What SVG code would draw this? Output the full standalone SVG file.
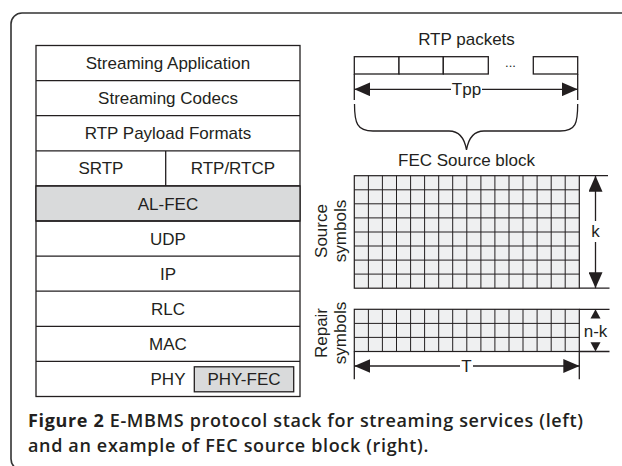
<svg xmlns="http://www.w3.org/2000/svg" width="622" height="466" viewBox="0 0 622 466">
<style>
.t{font-family:"Liberation Sans",Arial,sans-serif;font-size:17px;fill:#231f20;text-anchor:middle}
.ln{stroke:#231f20;stroke-width:1.3;fill:none}
.gl{stroke:#231f20;stroke-width:1;fill:none}
.box{fill:#fff;stroke:#231f20;stroke-width:1.3}
.gray{fill:#d9dadb;stroke:#231f20;stroke-width:1.3}
.cells{fill:#eff0f1;stroke:#231f20;stroke-width:1.2}
.ah{fill:#231f20;stroke:none}
.cap{font-family:"Open Sans","Liberation Sans",sans-serif;font-size:18px;letter-spacing:0.65px;fill:#231f20}
</style>
<defs>
<marker id="arr" markerUnits="userSpaceOnUse" markerWidth="16" markerHeight="14" refX="16" refY="7" orient="auto-start-reverse">
<path d="M0,0 L16,7 L0,14 z" fill="#231f20"/>
</marker>
</defs>
<rect width="622" height="466" fill="#fff"/>
<rect id="frame" x="11" y="13" width="700" height="457" rx="11" fill="none" stroke="#333" stroke-width="1.6"/>

<g id="stack">
<rect class="box" x="36" y="45.5" width="264" height="351"/>
<rect class="gray" x="36" y="185.9" width="264" height="35.1"/>
<path class="ln" d="M36,80.6H300M36,115.7H300M36,150.8H300M36,185.9H300M36,221H300M36,256.1H300M36,291.2H300M36,326.3H300M36,361.4H300M165.7,150.8V185.9"/>
<g id="n-app"><text class="t" x="168" y="69.1">Streaming Application</text></g>
<g id="n-codec"><text class="t" x="168" y="104.2">Streaming Codecs</text></g>
<g id="n-rtppf"><text class="t" x="168" y="139.3">RTP Payload Formats</text></g>
<g id="n-srtp"><text class="t" x="100.9" y="174.4">SRTP</text></g>
<g id="n-rtcp"><text class="t" x="232.9" y="174.4">RTP/RTCP</text></g>
<g id="n-alfec"><text class="t" x="168" y="209.5">AL-FEC</text></g>
<g id="n-udp"><text class="t" x="168" y="244.6">UDP</text></g>
<g id="n-ip"><text class="t" x="168" y="279.7">IP</text></g>
<g id="n-rlc"><text class="t" x="168" y="314.8">RLC</text></g>
<g id="n-mac"><text class="t" x="168" y="349.9">MAC</text></g>
<g id="n-phy"><text class="t" x="168" y="385">PHY</text></g>
<g id="n-phyfec"><rect class="gray" x="194.3" y="366.8" width="99.4" height="25"/><text class="t" x="244" y="385">PHY-FEC</text></g>
</g>

<g id="packets">
<text class="t" x="466.5" y="45">RTP packets</text>
<rect class="box" x="354.3" y="56.7" width="44.7" height="17.3"/>
<rect class="box" x="399" y="56.7" width="44.3" height="17.3"/>
<rect class="box" x="443.3" y="56.7" width="45" height="17.3"/>
<rect class="box" x="533.3" y="56.7" width="44.4" height="17.3"/>
<text class="t" x="510.5" y="67" style="font-size:13px">...</text>
</g>

<g id="source-block">
<text class="t" x="466.5" y="166">FEC Source block</text>
<rect class="cells" x="354.3" y="175.7" width="225" height="112.5"/>
<path class="gl" d="M368.4,175.7V288.2M382.4,175.7V288.2M396.5,175.7V288.2M410.6,175.7V288.2M424.6,175.7V288.2M438.7,175.7V288.2M452.7,175.7V288.2M466.8,175.7V288.2M480.9,175.7V288.2M494.9,175.7V288.2M509,175.7V288.2M523,175.7V288.2M537.1,175.7V288.2M551.2,175.7V288.2M565.2,175.7V288.2M354.3,189.8H579.3M354.3,203.8H579.3M354.3,217.9H579.3M354.3,232H579.3M354.3,246H579.3M354.3,260.1H579.3M354.3,274.1H579.3"/>
<text class="t" transform="translate(327,231) rotate(-90)" x="0" y="0">Source</text>
<text class="t" transform="translate(345.5,231) rotate(-90)" x="0" y="0">symbols</text>
</g>

<g id="repair-block">
<rect class="cells" x="354.3" y="309.3" width="225" height="42.2"/>
<path class="gl" d="M368.4,309.3V351.5M382.4,309.3V351.5M396.5,309.3V351.5M410.6,309.3V351.5M424.6,309.3V351.5M438.7,309.3V351.5M452.7,309.3V351.5M466.8,309.3V351.5M480.9,309.3V351.5M494.9,309.3V351.5M509,309.3V351.5M523,309.3V351.5M537.1,309.3V351.5M551.2,309.3V351.5M565.2,309.3V351.5M354.3,323.4H579.3M354.3,337.4H579.3"/>
<text class="t" transform="translate(327,333) rotate(-90)" x="0" y="0">Repair</text>
<text class="t" transform="translate(345.5,333) rotate(-90)" x="0" y="0">symbols</text>
</g>

<g id="connectors">
<path class="ln" d="M354.3,74V100M577.7,74V100"/>
<line class="ln" x1="354.3" y1="89.3" x2="451" y2="89.3" marker-start="url(#arr)"/>
<line class="ln" x1="482" y1="89.3" x2="577.7" y2="89.3" marker-end="url(#arr)"/>
<text class="t" x="466.5" y="94.5">Tpp</text>
<path class="ln" d="M354.5,104C354.5,123 357,131 373,131L449,131C459,131 464.5,138 466.5,150C468.5,138 474,131 484,131L560,131C576,131 577.7,123 577.7,104"/>
<path class="ln" d="M579.3,175.7H608M579.3,288.2H609.5M579.3,309.3H609.5M579.3,351.5H609.5"/>
<line class="ln" x1="595.5" y1="175.7" x2="595.5" y2="221" marker-start="url(#arr)"/>
<line class="ln" x1="595.5" y1="242" x2="595.5" y2="288.2" marker-end="url(#arr)"/>
<text class="t" x="595.5" y="237">k</text>
<path class="ah" d="M595.5,309.3L600.5,318.5L590.5,318.5z"/>
<path class="ah" d="M595.5,351.5L600.5,342.3L590.5,342.3z"/>
<text class="t" x="595.5" y="336.5">n-k</text>
<path class="ln" d="M354.3,351.5V379.3M579.3,351.5V379.3"/>
<line class="ln" x1="354.3" y1="366" x2="460" y2="366" marker-start="url(#arr)"/>
<line class="ln" x1="473" y1="366" x2="579.3" y2="366" marker-end="url(#arr)"/>
<text class="t" x="466.5" y="372">T</text>
</g>

<g id="caption">
<text class="cap" x="28" y="427"><tspan font-weight="700">Figure 2</tspan><tspan font-weight="600"> E-MBMS protocol stack for streaming services (left)</tspan></text>
<text class="cap" x="28" y="451.5" font-weight="600">and an example of FEC source block (right).</text>
</g>
</svg>
